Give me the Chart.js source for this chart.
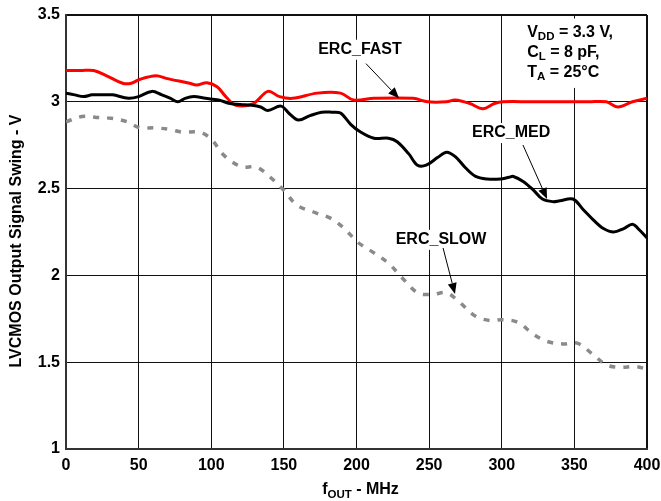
<!DOCTYPE html>
<html>
<head>
<meta charset="utf-8">
<script src="https://cdn.jsdelivr.net/npm/chart.js@4.4.1/dist/chart.umd.min.js"></script>
<style>
  html, body { margin: 0; padding: 0; background: #fff; }
  #wrap { width: 661px; height: 501px; }
</style>
</head>
<body>
<div id="wrap"><canvas id="swingChart" width="661" height="501"></canvas></div>
<script>
const xTicks = [0, 50, 100, 150, 200, 250, 300, 350, 400];
const yTicks = [1, 1.5, 2, 2.5, 3, 3.5];

const fastFreq = [0, 10, 19, 28, 39, 45, 51, 62, 69, 85, 90, 97, 104, 110, 117, 129, 139, 147, 156, 173, 189, 198, 212, 239, 249, 262, 268, 278, 287, 295, 301, 320, 340, 360, 372, 380, 390, 400];
const fastSwing = [3.18, 3.18, 3.18, 3.15, 3.107, 3.107, 3.13, 3.15, 3.135, 3.107, 3.097, 3.11, 3.087, 3.03, 2.98, 2.99, 3.06, 3.03, 3.02, 3.05, 3.05, 3.01, 3.02, 3.02, 3.0, 3.0, 3.01, 2.99, 2.96, 2.99, 3.0, 3.0, 3.0, 3.0, 3.0, 2.97, 3.0, 3.02];

const medFreq = [0, 6, 12, 18, 25, 32, 43, 50, 59, 66, 72, 77, 82, 88, 96, 105, 113, 120, 128, 134, 139, 148, 154, 160, 168, 176, 183, 189, 196, 202, 212, 222, 228, 236, 242, 248, 256, 262, 268, 275, 282, 290, 299, 305, 308, 315, 322, 328, 335, 340, 349, 356, 363, 370, 377, 384, 390, 395, 400];
const medSwing = [3.05, 3.04, 3.03, 3.04, 3.04, 3.04, 3.02, 3.03, 3.06, 3.04, 3.02, 3.0, 3.02, 3.03, 3.02, 3.01, 2.99, 2.985, 2.98, 2.97, 2.95, 2.975, 2.93, 2.895, 2.92, 2.94, 2.94, 2.935, 2.87, 2.83, 2.79, 2.79, 2.77, 2.70, 2.635, 2.635, 2.68, 2.71, 2.684, 2.62, 2.57, 2.555, 2.555, 2.565, 2.57, 2.54, 2.49, 2.44, 2.425, 2.43, 2.44, 2.38, 2.32, 2.27, 2.25, 2.27, 2.295, 2.26, 2.215];

const slowFreq = [0, 11, 21, 31, 42, 51, 61, 72, 80, 92, 100, 109, 121, 131, 140, 150, 159, 172, 182, 191, 201, 212, 222, 231, 242, 252, 262, 271, 282, 292, 301, 311, 322, 331, 342, 352, 362, 372, 381, 392, 400];
const slowSwing = [2.885, 2.915, 2.91, 2.905, 2.885, 2.85, 2.85, 2.84, 2.825, 2.825, 2.785, 2.69, 2.625, 2.625, 2.57, 2.49, 2.405, 2.36, 2.33, 2.275, 2.19, 2.13, 2.07, 1.99, 1.9, 1.89, 1.9, 1.845, 1.765, 1.74, 1.745, 1.73, 1.66, 1.62, 1.605, 1.61, 1.55, 1.485, 1.47, 1.475, 1.46];

const toPoints = (xs, ys) => xs.map((x, i) => ({ x: x, y: ys[i] }));

const FONT = "'Liberation Sans', Arial, sans-serif";

// label runs: [text, isSubscript]
function drawRuns(ctx, runs, x, y, size, align) {
    ctx.save();
    ctx.textBaseline = "middle";
    ctx.textAlign = "left";
    let total = 0;
    runs.forEach(r => {
        ctx.font = "bold " + (r[1] ? size * 0.72 : size) + "px " + FONT;
        total += ctx.measureText(r[0]).width;
    });
    let cx = align === "center" ? x - total / 2 : x;
    runs.forEach(r => {
        ctx.font = "bold " + (r[1] ? size * 0.72 : size) + "px " + FONT;
        ctx.fillText(r[0], cx, r[1] ? y + size * 0.3 : y);
        cx += ctx.measureText(r[0]).width;
    });
    ctx.restore();
    return total;
}

function arrow(ctx, x1, y1, x2, y2) {
    const a = Math.atan2(y2 - y1, x2 - x1);
    const len = 11, half = 4.5;
    ctx.save();
    ctx.strokeStyle = "#000";
    ctx.fillStyle = "#000";
    ctx.lineWidth = 1;
    ctx.beginPath();
    ctx.moveTo(x1, y1);
    ctx.lineTo(x2 - len * Math.cos(a), y2 - len * Math.sin(a));
    ctx.stroke();
    ctx.beginPath();
    ctx.moveTo(x2, y2);
    ctx.lineTo(x2 - len * Math.cos(a) + half * Math.sin(a), y2 - len * Math.sin(a) - half * Math.cos(a));
    ctx.lineTo(x2 - len * Math.cos(a) - half * Math.sin(a), y2 - len * Math.sin(a) + half * Math.cos(a));
    ctx.closePath();
    ctx.fill();
    ctx.restore();
}

// callouts in data units: label centre, leader start, arrow tip
const callouts = [
    { text: "ERC_FAST", at: [202.4, 3.30], from: [206.5, 3.22], to: [229.3, 3.02] },
    { text: "ERC_MED", at: [306.5, 2.82], from: [314.6, 2.751], to: [331.2, 2.44] },
    { text: "ERC_SLOW", at: [258.2, 2.205], from: [259.6, 2.158], to: [267.8, 1.893] }
];
const conditions = [
    [["V", false], ["DD", true], [" = 3.3 V,", false]],
    [["C", false], ["L", true], [" = 8 pF,", false]],
    [["T", false], ["A", true], [" = 25°C", false]]
];

const notesPlugin = {
    id: "notes",
    beforeDatasetsDraw(chart) {
        const { ctx, scales: { x, y } } = chart;
        ctx.save();
        ctx.fillStyle = "#fff";
        // white box behind the test conditions
        ctx.fillRect(x.getPixelForValue(305), y.getPixelForValue(3.48), x.getPixelForValue(398) - x.getPixelForValue(305), y.getPixelForValue(3.08) - y.getPixelForValue(3.48));
        ctx.font = "bold 16px " + FONT;
        callouts.forEach(c => {
            const w = ctx.measureText(c.text).width;
            const cx = x.getPixelForValue(c.at[0]), cy = y.getPixelForValue(c.at[1]);
            ctx.fillRect(cx - w / 2 - 2, cy - 10, w + 4, 20);
        });
        ctx.restore();
    },
    afterDatasetsDraw(chart) {
        const { ctx, scales: { x, y }, chartArea } = chart;
        ctx.save();
        ctx.fillStyle = "#000";
        callouts.forEach(c => {
            drawRuns(ctx, [[c.text, false]], x.getPixelForValue(c.at[0]), y.getPixelForValue(c.at[1]), 16, "center");
            arrow(ctx, x.getPixelForValue(c.from[0]), y.getPixelForValue(c.from[1]), x.getPixelForValue(c.to[0]), y.getPixelForValue(c.to[1]));
        });
        const left = x.getPixelForValue(317.5);
        conditions.forEach((runs, i) => {
            drawRuns(ctx, runs, left, y.getPixelForValue(3.40) + i * 20, 16, "left");
        });
        // axis titles
        drawRuns(ctx, [["f", false], ["OUT", true], [" - MHz", false]], (chartArea.left + chartArea.right) / 2 + 4, 490, 16, "center");
        ctx.translate(17, (chartArea.top + chartArea.bottom) / 2 + 9);
        ctx.rotate(-Math.PI / 2);
        drawRuns(ctx, [["LVCMOS Output Signal Swing - V", false]], 0, 0, 16, "center");
        ctx.restore();
    }
};

new Chart(document.getElementById("swingChart"), {
    type: "line",
    data: {
        datasets: [
            {
                label: "ERC_SLOW",
                data: toPoints(slowFreq, slowSwing),
                borderColor: "#8a8a8a",
                borderWidth: 3.5,
                borderDash: [6, 8],
                pointRadius: 0,
                tension: 0.35
            },
            {
                label: "ERC_MED",
                data: toPoints(medFreq, medSwing),
                borderColor: "#000000",
                borderWidth: 3,
                pointRadius: 0,
                tension: 0.35
            },
            {
                label: "ERC_FAST",
                data: toPoints(fastFreq, fastSwing),
                borderColor: "#ff0000",
                borderWidth: 3,
                pointRadius: 0,
                tension: 0.35
            }
        ]
    },
    options: {
        responsive: false,
        animation: false,
        layout: { padding: { top: 15, right: 14, left: 0, bottom: 0 } },
        plugins: { legend: { display: false }, tooltip: { enabled: false } },
        scales: {
            x: {
                type: "linear",
                min: 0,
                max: 400,
                afterBuildTicks: s => { s.ticks = xTicks.map(v => ({ value: v })); },
                afterFit: s => { s.height = 52; s.paddingLeft = 0; s.paddingRight = 0; },
                ticks: { color: "#000", font: { family: FONT, size: 16, weight: "bold" }, padding: 7, maxRotation: 0 },
                grid: { color: "#111", lineWidth: c => (c.tick && c.tick.value === 400 ? 2 : 1), drawTicks: false },
                border: { color: "#333", width: 2 }
            },
            y: {
                min: 1,
                max: 3.5,
                afterBuildTicks: s => { s.ticks = yTicks.map(v => ({ value: v })); },
                afterFit: s => { s.width = 66; s.paddingTop = 0; s.paddingBottom = 0; },
                ticks: { color: "#000", font: { family: FONT, size: 16, weight: "bold" }, padding: 6, callback: v => String(v) },
                grid: { color: "#111", lineWidth: c => (c.tick && c.tick.value === 3.5 ? 2 : 1), drawTicks: false },
                border: { color: "#333", width: 2 }
            }
        }
    },
    plugins: [notesPlugin]
});
</script>
</body>
</html>
